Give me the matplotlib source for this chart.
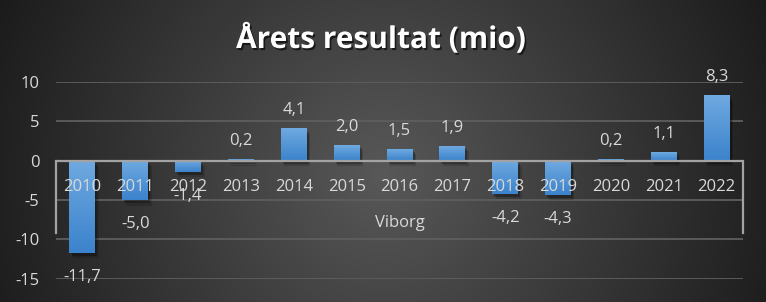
import numpy as np
import matplotlib
matplotlib.use("Agg")
import matplotlib.pyplot as plt
import matplotlib.patheffects as pe
from matplotlib.colors import LinearSegmentedColormap

years = ['2010', '2011', '2012', '2013', '2014', '2015', '2016',
         '2017', '2018', '2019', '2020', '2021', '2022']
values = [-11.7, -5.0, -1.4, 0.2, 4.1, 2.0, 1.5, 1.9, -4.2, -4.3, 0.2, 1.1, 8.3]
group = 'Viborg'
title = 'Årets resultat (mio)'
yticks = [-15, -10, -5, 0, 5, 10]

W, H = 766, 302
txt = '#d9d9d9'
font = 'Open Sans'
px = 0.72  # points per pixel at 100 dpi

fig = plt.figure(figsize=(W / 100, H / 100), dpi=100)

# radial background
bg = fig.add_axes([0, 0, 1, 1])
yy, xx = np.mgrid[0:H, 0:W]
r = np.sqrt(((xx - 383) / 430.0) ** 2 + ((yy - 175) / 430.0) ** 2)
v = (88 - 62 * np.clip(r, 0, 1)) / 255.0
bg.imshow(np.dstack([v, v, v]), extent=[0, W, H, 0], aspect='auto')
bg.set_xlim(0, W)
bg.set_ylim(H, 0)
bg.axis('off')

ax = fig.add_axes([56 / W, 1 - 278.7 / H, 687 / W, (278.7 - 82) / H])
ax.patch.set_alpha(0)
x = np.arange(len(years))
cmap = LinearSegmentedColormap.from_list('b', ['#6fa9e0', '#3b83cc'])
grad = np.linspace(0, 1, 64).reshape(-1, 1)

# soft shadow under the bars
bars = ax.bar(x, values, width=0.49, color='#4d92d8', zorder=3,
              path_effects=[pe.SimplePatchShadow(offset=(1.5, -2.5), shadow_rgbFace='black', alpha=0.28),
                            pe.SimplePatchShadow(offset=(2.5, -4), shadow_rgbFace='black', alpha=0.15),
                            pe.Normal()])
for b in bars:
    x0, w = b.get_x(), b.get_width()
    y0, h = b.get_y(), b.get_height()
    top, bot = max(y0, y0 + h), min(y0, y0 + h)
    ax.imshow(grad, cmap=cmap, extent=[x0, x0 + w, bot, top], aspect='auto',
              origin='upper', zorder=4)

ax.set_xlim(-0.5, len(years) - 0.5)
ax.set_ylim(-15, 10)
ax.set_yticks(yticks)
ax.set_yticklabels([str(t) for t in yticks], fontsize=12, color=txt, family=font)
ax.set_xticks([])
ax.tick_params(axis='y', length=0, pad=12)
ax.grid(axis='y', color='#5e5e5e', lw=1.3, zorder=0)
for s in ax.spines.values():
    s.set_visible(False)

ax.axhline(0, color='#a3a3a3', lw=1.6, zorder=5)
ax.plot([-0.5, -0.5], [0, -9.2], color='#a3a3a3', lw=1.6, clip_on=False, zorder=5)
ax.plot([12.5, 12.5], [0, -9.2], color='#a3a3a3', lw=1.6, clip_on=False, zorder=5)

for i, val in enumerate(values):
    lab = f'{val:.1f}'.replace('.', ',')
    off = 14 * px if val >= 0 else -28 * px
    ax.annotate(lab, (i, val), xytext=(0, off), textcoords='offset points',
                ha='center', va='baseline', fontsize=12, color=txt, family=font,
                zorder=6, annotation_clip=False)
    ax.annotate(years[i], (i, 0), xytext=(0, -30.3 * px), textcoords='offset points',
                ha='center', va='baseline', fontsize=12, color=txt, family=font,
                zorder=6, annotation_clip=False)

ax.annotate(group, ((len(years) - 1) / 2, 0), xytext=(0, -66.6 * px),
            textcoords='offset points', ha='center', va='baseline',
            fontsize=12, color=txt, family=font, annotation_clip=False)

fig.text(381 / W, 1 - 48 / H, title, ha='center', va='baseline', fontsize=21.5,
         fontweight='bold', color='white', family=font,
         path_effects=[pe.withSimplePatchShadow(offset=(1.2, -1.5), shadow_rgbFace='black', alpha=0.6)])

fig.savefig('out.png', dpi=100)
